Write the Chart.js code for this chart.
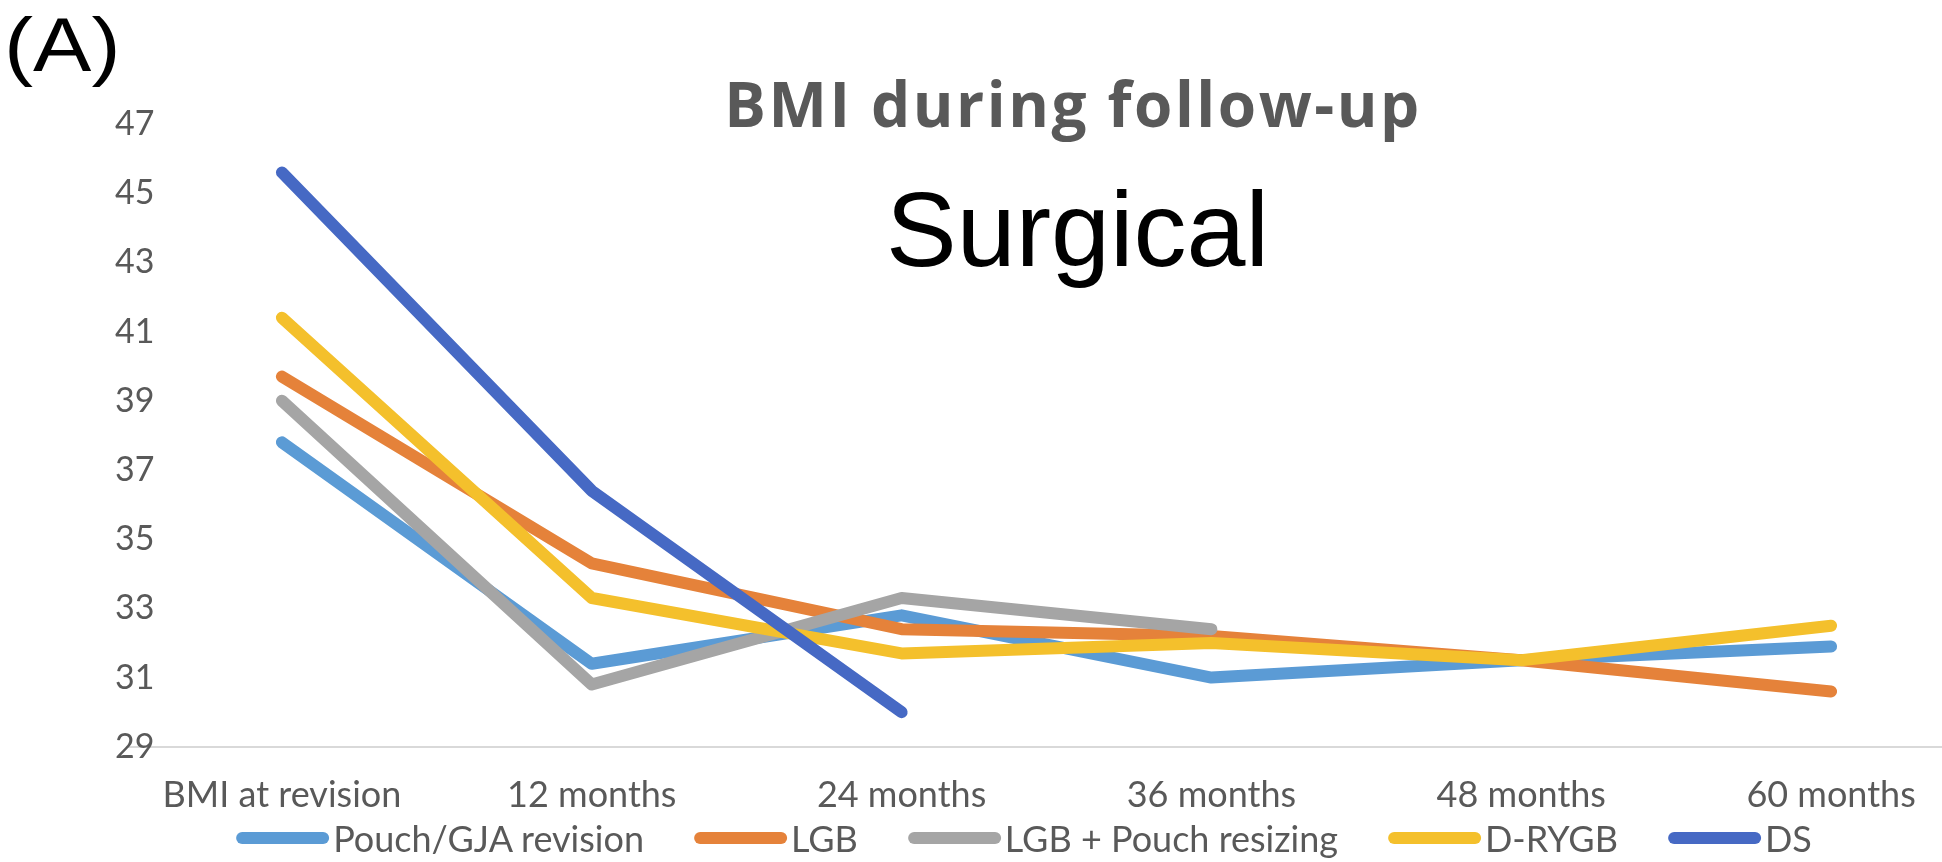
<!DOCTYPE html>
<html>
<head>
<meta charset="utf-8">
<script src="https://cdn.jsdelivr.net/npm/chart.js@4.4.1/dist/chart.umd.min.js"></script>
<style>
  html, body { margin: 0; padding: 0; background: #fff; overflow: hidden; }
  #wrap { position: relative; width: 2000px; height: 862px; }
  #panel { position: absolute; left: 4px; top: 1px; font: 76px "Liberation Sans", Arial, sans-serif; color: #000;
           transform: scaleX(1.15); transform-origin: left top; }
  #title { position: absolute; left: 1073px; top: 61px; transform: translateX(-50%); white-space: nowrap;
           font: 700 62px "Open Sans", sans-serif; letter-spacing: 2.5px; color: #595959; }
  #sub { position: absolute; left: 886px; top: 169px; font: 106px "Liberation Sans", Arial, sans-serif; color: #000; }
  #legend { position: absolute; left: 1024px; top: 820px; transform: translateX(-50%); display: flex; gap: 50px;
            white-space: nowrap; font: 36px/36px Lato, sans-serif; color: #595959; }
  .item { display: flex; align-items: center; gap: 4px; }
  .swatch { display: inline-block; width: 93px; height: 12px; border-radius: 6px; }
</style>
</head>
<body>
<div id="wrap">
  <canvas id="bmiChart" width="2000" height="862"></canvas>
  <div id="panel">(A)</div>
  <div id="title">BMI during follow-up</div>
  <div id="sub">Surgical</div>
  <div id="legend"></div>
</div>
<script>
// Kategoriyalar va qiymatlar
const categories = ['BMI at revision', '12 months', '24 months', '36 months', '48 months', '60 months'];
const pouchGja = [37.8, 31.4, 32.8, 31.0, 31.5, 31.9];
const lgb = [39.7, 34.3, 32.4, 32.2, 31.5, 30.6];
const lgbPouch = [39.0, 30.8, 33.3, 32.4, null, null];
const dRygb = [41.4, 33.3, 31.7, 32.0, 31.5, 32.5];
const ds = [45.6, 36.4, 30.0, null, null, null];
const yTicks = [29, 31, 33, 35, 37, 39, 41, 43, 45, 47];

function line(label, data, color, order) {
    return {
        label: label,
        data: data,
        borderColor: color,
        backgroundColor: color,
        borderWidth: 12,
        borderCapStyle: 'round',
        borderJoinStyle: 'round',
        pointRadius: 0,
        tension: 0,
        spanGaps: false,
        order: order
    };
}

const datasets = [
    line('Pouch/GJA revision', pouchGja, '#5b9bd5', 5),
    line('LGB', lgb, '#e5823a', 4),
    line('LGB + Pouch resizing', lgbPouch, '#a5a5a5', 3),
    line('D-RYGB', dRygb, '#f4c02c', 2),
    line('DS', ds, '#4669c4', 1)
];

const ctx = document.getElementById('bmiChart').getContext('2d');
const chart = new Chart(ctx, {
    type: 'line',
    data: { labels: categories, datasets: datasets },
    options: {
        responsive: false,
        animation: false,
        layout: { padding: { left: 0, right: 14, top: 124, bottom: 18 } },
        plugins: {
            legend: { display: false },
            tooltip: { enabled: false }
        },
        scales: {
            x: {
                offset: true,
                grid: { display: false, drawTicks: false },
                border: { display: true, color: '#d9d9d9', width: 2 },
                ticks: { color: '#595959', font: { family: 'Lato', size: 36 }, padding: 27, maxRotation: 0, autoSkip: false }
            },
            y: {
                min: 29,
                max: 47,
                afterBuildTicks: (axis) => { axis.ticks = yTicks.map(v => ({ value: v })); },
                afterFit: (axis) => { axis.width = 127; },
                grid: { display: false, drawTicks: false },
                border: { display: false },
                ticks: { color: '#595959', font: { family: 'Lato', size: 34 }, mirror: true, padding: -12 }
            }
        }
    }
});

// Legenda (HTML)
const legendBox = document.getElementById('legend');
datasets.forEach(d => {
    const item = document.createElement('span');
    item.className = 'item';
    item.innerHTML = `<span class="swatch" style="background:${d.borderColor}"></span><span>${d.label}</span>`;
    legendBox.appendChild(item);
});
</script>
</body>
</html>
